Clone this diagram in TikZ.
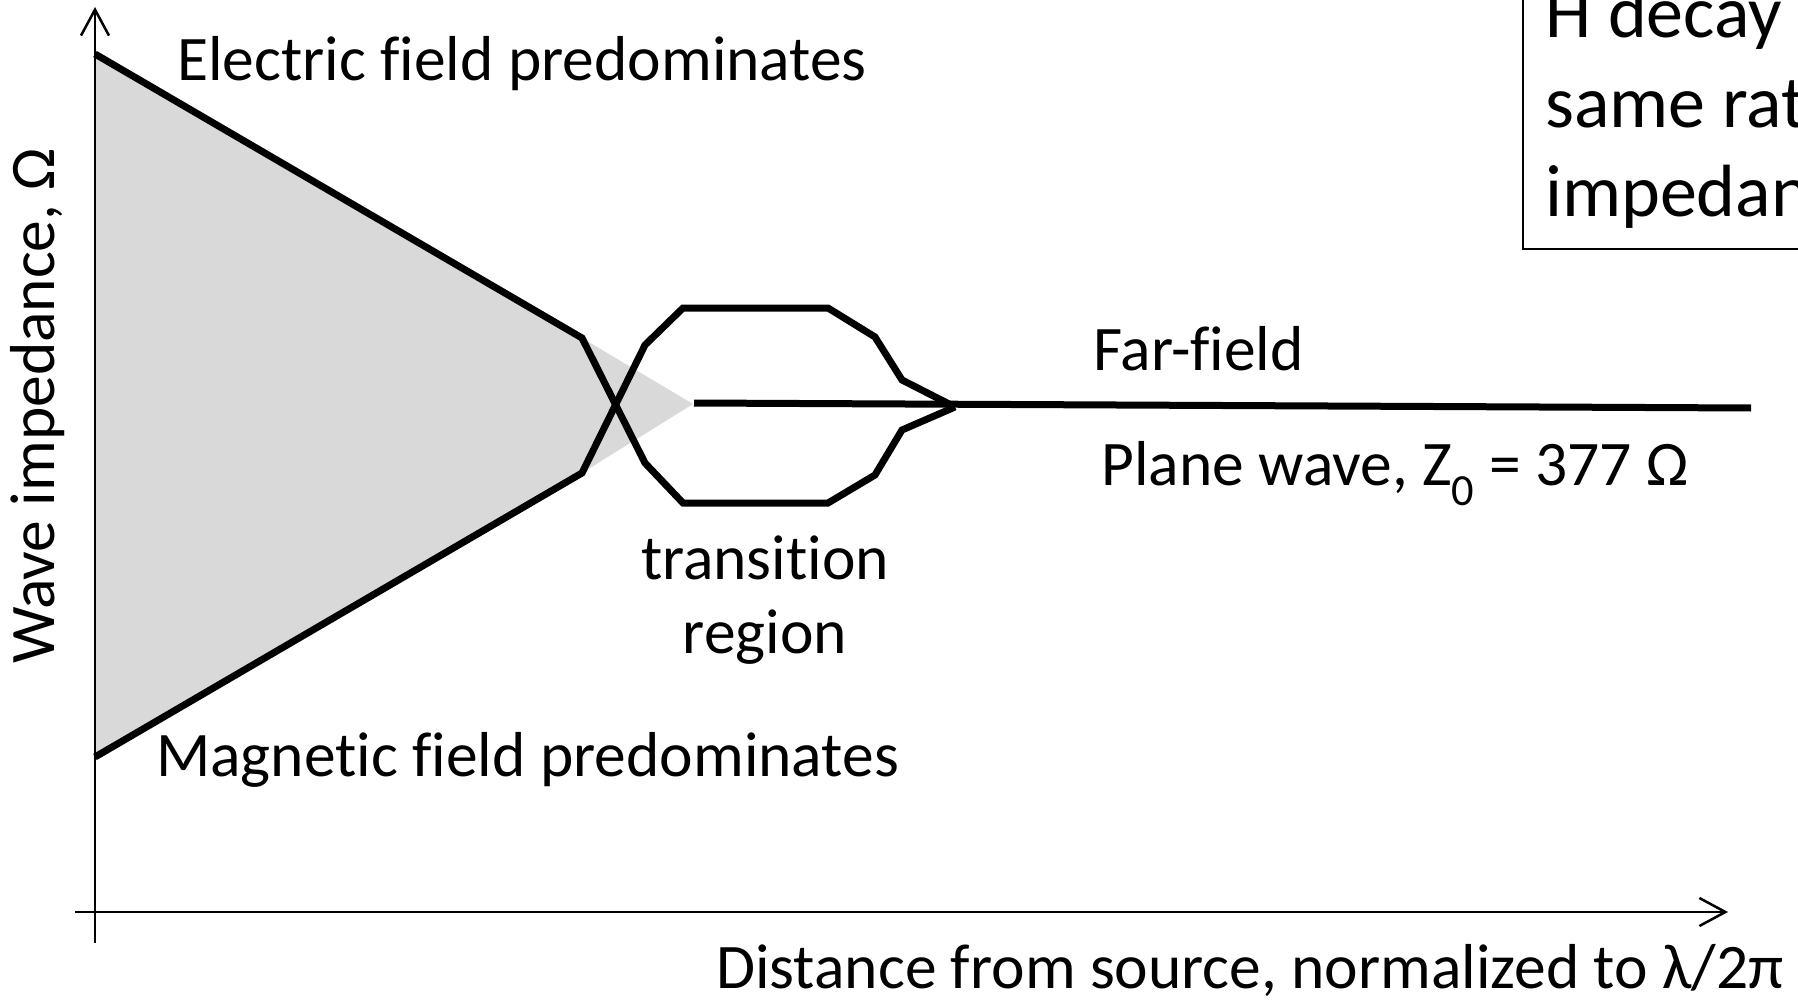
\documentclass[tikz,border=0pt]{standalone}
\usepackage{fontspec}
\setmainfont[Ligatures=NoCommon]{Carlito}
\usetikzlibrary{arrows.meta}
\definecolor{wedgegray}{HTML}{D9D9D9}

\begin{document}
\begin{tikzpicture}[x=1pt,y=-1pt,>={Straight Barb[length=26pt,width=28pt]},
  curve/.style={line width=7pt},
  axis/.style={line width=2.5pt},
  lbl/.style={font=\fontsize{63.5}{70}\selectfont,anchor=base west,inner sep=0pt},
  boxtxt/.style={font=\fontsize{74}{90}\selectfont,anchor=base west,inner sep=0pt}]
  \useasboundingbox (0,0) rectangle (1798,1000);
  \clip (0,0) rectangle (1798,1000);
  % corner points of the two field curves
  \coordinate (E0) at (95,54);
  \coordinate (M0) at (95,757);
  \coordinate (Ek) at (582,338);
  \coordinate (Mk) at (582,473);
  \coordinate (tip) at (693,404);
  \coordinate (join) at (955,407);
  \coordinate (far) at (1751,408);
  % shaded near-field wedge
  \fill[wedgegray] (E0)--(Ek)--(tip)--(Mk)--(M0)--cycle;
  % axes
  \coordinate (yb) at (95,943);
  \coordinate (yt) at (95,7);
  \coordinate (xl) at (75,912);
  \coordinate (xr) at (1728,912);
  \draw[axis,->] (yb)--(yt);
  \draw[axis,->] (xl)--(xr);
  % field curves through the transition region
  \draw[curve] (E0)--(Ek)--(645,463)--(683,503)--(828,503)--(875,475)--(902,430)--(join);
  \draw[curve] (M0)--(Mk)--(645,345)--(683,308)--(828,308)--(875,337)--(902,380)--(join);
  \draw[curve] (694,403)--(far);
  % labels
  \node[lbl] (elec) at (177,81) {Electric field predominates};
  \node[lbl] (magn) at (156,776) {Magnetic field predominates};
  \node[lbl] (farf) at (1093,370) {Far-field};
  \node[lbl] (plane) at (1101,485) {Plane wave, Z\textsubscript{0} = 377 Ω};
  \node[lbl,anchor=base] (trans) at (765,579) {transition};
  \node[lbl,anchor=base] (regn) at (765,653) {region};
  \node[lbl,anchor=center,rotate=90] (ylab) at (38,406) {Wave impedance, Ω};
  \node[lbl] (xlab) at (716,988) {Distance from source, normalized to λ/2π};
  % note box, cut by the right edge
  \draw[line width=2.5pt] (1800,249)--(1523,249)--(1523,-10);
  \node[boxtxt] (note1) at (1545,38) {H decay at};
  \node[boxtxt] (note2) at (1545,128) {same rate};
  \node[boxtxt] (note3) at (1545,217) {impedance};
\end{tikzpicture}
\end{document}
